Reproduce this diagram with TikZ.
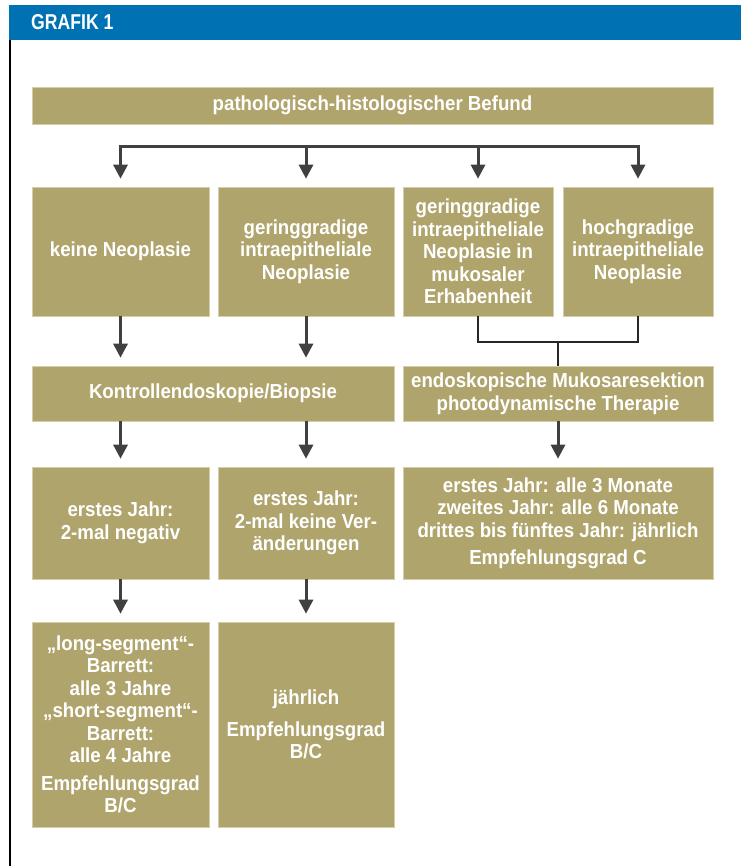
\documentclass[tikz,border=0pt]{standalone}
\usepackage{fontspec}
\setmainfont{Liberation Sans}
\newfontfamily\boxfont{Liberation Sans}[FakeStretch=0.92]
\newfontfamily\headfont{Liberation Sans}[FakeStretch=0.82]
\usetikzlibrary{positioning, arrows.meta}
\definecolor{khaki}{RGB}{176,164,109}
\definecolor{headblue}{RGB}{0,113,179}
\definecolor{arrowgray}{RGB}{64,64,64}
\definecolor{boxedge}{RGB}{214,206,168}
\tikzset{
    stepbox/.style={
        rectangle,
        fill=khaki, % Kastenfarbe
        draw=boxedge, % heller Rand
        line width=0.6pt,
        text=white,
        align=center,
        inner sep=0,
        font=\boxfont\bfseries\fontsize{20.3}{22.5}\selectfont
    },
    downarrow/.style={
        draw=arrowgray,
        line width=3pt, % Pfeil kräftig
        -{Triangle[width=14pt,length=14pt]},
        shorten >=8pt
    },
    joinline/.style={
        draw=black!85,
        line width=2.8pt
    }
}
\begin{document}
\begin{tikzpicture}[
                x=1pt, y=-1pt,
                row2/.style={stepbox, minimum height=129},
                row4/.style={stepbox, minimum height=112},
                row5/.style={stepbox, minimum height=205}
            ]
            \useasboundingbox (0,0) rectangle (741,866);
            % Kopfzeile
            \fill[headblue] (9,5) rectangle (741,40);
            \draw[line width=2pt, black] (10,40) -- (10,866);
            \node[anchor=west, inner sep=0, text=white,
                font=\headfont\bfseries\fontsize{21.5}{21.5}\selectfont] (grafik) at (31,22.5) {GRAFIK 1};
            % Befund
            \node[stepbox, minimum width=681, minimum height=37] (befund) at (372.5,105.5)
                {pathologisch-histologischer Befund};
            % zweite Reihe
            \node[row2, minimum width=177] (keine) at (120.5,251.5) {keine Neoplasie};
            \node[row2, minimum width=176] (gering) at (306,251.5)
                {geringgradige\\intraepitheliale\\Neoplasie};
            \node[row2, minimum width=150] (erhaben) at (478,251.5)
                {geringgradige\\intraepitheliale\\Neoplasie in\\mukosaler\\Erhabenheit};
            \node[row2, minimum width=150] (hoch) at (638,251.5)
                {hochgradige\\intraepitheliale\\Neoplasie};
            % dritte Reihe
            \node[stepbox, minimum width=362, minimum height=55] (kontrolle) at (213,393.5)
                {Kontrollendoskopie/Biopsie};
            \node[stepbox, minimum width=310, minimum height=55] (resektion) at (558,393.5)
                {endoskopische Mukosaresektion\\photodynamische Therapie};
            % vierte Reihe
            \node[row4, minimum width=177] (negativ) at (120.5,523)
                {erstes Jahr:\\2-mal negativ};
            \node[row4, minimum width=176] (veraend) at (306,523)
                {erstes Jahr:\\2-mal keine Ver-\\änderungen};
            \node[row4, minimum width=310] (monate) at (558,523)
                {erstes Jahr: alle 3 Monate\\zweites Jahr: alle 6 Monate\\drittes bis fünftes Jahr: jährlich\\[4.5pt]Empfehlungsgrad C};
            % fünfte Reihe
            \node[row5, minimum width=177] (longseg) at (120.5,724.5)
                {„long-segment“-\\Barrett:\\alle 3 Jahre\\„short-segment“-\\Barrett:\\alle 4 Jahre\\[5pt]Empfehlungsgrad\\B/C};
            \node[row5, minimum width=176] (jaehrl) at (306,724.5)
                {jährlich\\[9pt]Empfehlungsgrad\\B/C};
            % Verteiler unter dem Befund
            \coordinate (bar) at (372.5,147);
            \draw[draw=arrowgray, line width=3pt, line cap=rect] (keine.north |- bar) -- (hoch.north |- bar);
            \foreach \n in {keine, gering, erhaben, hoch}
                \draw[downarrow] (\n.north |- bar) -- (\n.north);
            % Pfeile nach unten
            \draw[downarrow] (keine.south) -- (keine.south |- kontrolle.north);
            \draw[downarrow] (gering.south) -- (gering.south |- kontrolle.north);
            \draw[downarrow] (negativ.north |- kontrolle.south) -- (negativ.north);
            \draw[downarrow] (veraend.north |- kontrolle.south) -- (veraend.north);
            \draw[downarrow] (monate.north |- resektion.south) -- (monate.north);
            \draw[downarrow] (negativ.south) -- (longseg.north);
            \draw[downarrow] (veraend.south) -- (jaehrl.north);
            % Zusammenführung rechts
            \coordinate (merge) at (558,342);
            \draw[joinline] (erhaben.south) |- (merge) -| (hoch.south);
            \draw[joinline] (merge) -- (resektion.north);
\end{tikzpicture}
\end{document}
